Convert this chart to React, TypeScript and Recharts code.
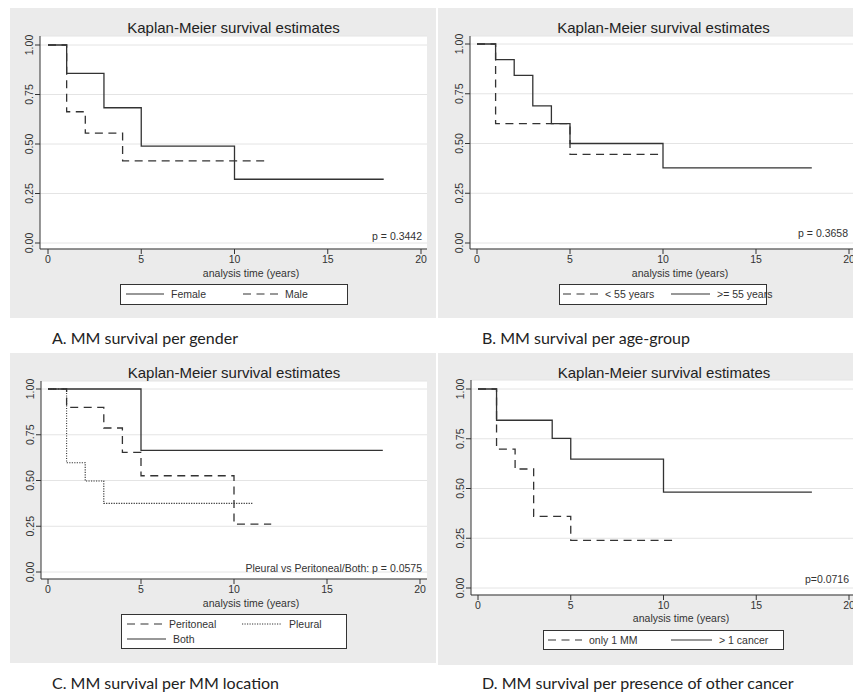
import React from 'react'
import { LineChart, Line, XAxis, YAxis, CartesianGrid } from 'recharts'

// Kaplan-Meier step data: event times (years) and survival estimates
const FEMALE_T = [0, 1, 3, 5, 10, 18]
const FEMALE_S = [1, 0.857, 0.683, 0.489, 0.322, 0.322]
const MALE_T = [0, 1, 2, 4, 11.8]
const MALE_S = [1, 0.663, 0.555, 0.415, 0.415]

const YOUNG_T = [0, 1, 5, 10]
const YOUNG_S = [1, 0.6, 0.445, 0.445]
const OLD_T = [0, 1, 2, 3, 4, 5, 10, 18]
const OLD_S = [1, 0.921, 0.842, 0.689, 0.6, 0.5, 0.378, 0.378]

const PERI_T = [0, 1, 3, 4, 5, 10, 12]
const PERI_S = [1, 0.9, 0.787, 0.654, 0.526, 0.262, 0.262]
const PLEU_T = [0, 1, 2, 3, 11]
const PLEU_S = [1, 0.597, 0.497, 0.375, 0.375]
const BOTH_T = [0, 5, 18]
const BOTH_S = [1, 0.665, 0.665]

const ONLY_T = [0, 1, 2, 3, 5, 10.7]
const ONLY_S = [1, 0.698, 0.598, 0.36, 0.239, 0.239]
const MULTI_T = [0, 1, 4, 5, 10, 18]
const MULTI_S = [1, 0.843, 0.752, 0.648, 0.482, 0.482]

const X_TICKS = [0, 5, 10, 15, 20]
const Y_TICKS = [0, 0.25, 0.5, 0.75, 1]

const TITLE = 'Kaplan-Meier survival estimates'
const X_LABEL = 'analysis time (years)'

const FONT = '"Liberation Sans", Arial, sans-serif'
const INK = '#333'
const DASH = '8 5.5'
const DOT = '1.2 1.3'

type Style = 'solid' | 'dash' | 'dot'

interface Series {
    name: string
    t: number[]
    s: number[]
    style: Style
}

const toRows = (t: number[], s: number[]) => t.map((v, i) => ({ t: v, s: s[i] }))

function dashOf(style: Style) {
    if (style === 'dash') return DASH
    if (style === 'dot') return DOT
    return undefined
}

function YTick(props: any) {
    const { x, y, payload } = props
    return (
        <text
            x={x}
            y={y}
            transform={`rotate(-90, ${x}, ${y})`}
            textAnchor="middle"
            fill={INK}
            fontSize={10.5}
            fontFamily={FONT}
        >
            {Number(payload.value).toFixed(2)}
        </text>
    )
}

function Sample({ style, width }: { style: Style; width: number }) {
    return (
        <svg width={width} height={6} style={{ display: 'block' }}>
            <line
                x1={0}
                x2={width}
                y1={3}
                y2={3}
                stroke={INK}
                strokeWidth={style === 'dot' ? 1 : 1.2}
                strokeDasharray={dashOf(style)}
            />
        </svg>
    )
}

interface LegendItem {
    name: string
    style: Style
    x: number
    y: number
    w: number
}

interface PanelProps {
    box: { x: number; y: number; w: number; h: number }
    plot: { l: number; t: number; r: number; b: number }
    x0px: number
    x20px: number
    y1px: number
    y0px: number
    series: Series[]
    pText: string
    pRight: number
    pY: number
    xLabelX: number
    xLabelY: number
    legendBox: { x: number; y: number; w: number; h: number }
    legend: LegendItem[]
    caption: string
    captionX: number
    captionY: number
}

function KMPanel(p: PanelProps) {
    const { box, plot } = p
    const upx = 20 / (p.x20px - p.x0px)
    const xDomain = [(plot.l - p.x0px) * upx, (plot.r - p.x0px) * upx]
    const upy = 1 / (p.y0px - p.y1px)
    const yDomain = [(p.y0px - plot.b) * upy, (p.y0px - plot.t) * upy]
    const chartW = plot.r - box.x + 5
    const chartH = plot.b - box.y + 30
    const centerX = (plot.l + plot.r) / 2

    return (
        <>
            <div
                style={{
                    position: 'absolute',
                    left: box.x,
                    top: box.y,
                    width: box.w,
                    height: box.h,
                    background: '#ebebeb',
                }}
            />
            <div style={{ position: 'absolute', left: box.x, top: box.y }}>
                <LineChart
                    width={chartW}
                    height={chartH}
                    margin={{ top: plot.t - box.y, right: 5, left: 0, bottom: 10 }}
                >
                    <CartesianGrid vertical={false} stroke="#e4e4e4" fill="#fff" />
                    <XAxis
                        type="number"
                        dataKey="t"
                        domain={xDomain}
                        ticks={X_TICKS}
                        allowDataOverflow
                        height={20}
                        tickSize={5}
                        stroke={INK}
                        tick={{ fill: INK, fontSize: 10.5, fontFamily: FONT }}
                    />
                    <YAxis
                        type="number"
                        dataKey="s"
                        domain={yDomain}
                        ticks={Y_TICKS}
                        allowDataOverflow
                        width={plot.l - box.x}
                        tickSize={5}
                        stroke={INK}
                        tick={<YTick />}
                    />
                    {p.series.map((s) => (
                        <Line
                            key={s.name}
                            data={toRows(s.t, s.s)}
                            dataKey="s"
                            type="stepAfter"
                            stroke={INK}
                            strokeWidth={s.style === 'dot' ? 1.1 : 1.3}
                            strokeDasharray={dashOf(s.style)}
                            dot={false}
                            isAnimationActive={false}
                        />
                    ))}
                </LineChart>
            </div>
            <div
                style={{
                    position: 'absolute',
                    left: centerX - 150,
                    top: box.y + 11,
                    width: 300,
                    textAlign: 'center',
                    fontFamily: FONT,
                    fontSize: 15,
                    color: '#222',
                }}
            >
                {TITLE}
            </div>
            <div
                style={{
                    position: 'absolute',
                    left: p.pRight - 300,
                    top: p.pY - 7,
                    width: 300,
                    textAlign: 'right',
                    fontFamily: FONT,
                    fontSize: 10.5,
                    color: INK,
                    lineHeight: '14px',
                }}
            >
                {p.pText}
            </div>
            <div
                style={{
                    position: 'absolute',
                    left: p.xLabelX - 100,
                    top: p.xLabelY - 7,
                    width: 200,
                    textAlign: 'center',
                    fontFamily: FONT,
                    fontSize: 10.5,
                    color: INK,
                    lineHeight: '14px',
                }}
            >
                {X_LABEL}
            </div>
            <div
                style={{
                    position: 'absolute',
                    left: p.legendBox.x,
                    top: p.legendBox.y,
                    width: p.legendBox.w,
                    height: p.legendBox.h,
                    border: '1px solid #333',
                    background: '#fff',
                    boxSizing: 'border-box',
                }}
            />
            {p.legend.map((it) => (
                <div
                    key={it.name}
                    style={{
                        position: 'absolute',
                        left: it.x,
                        top: it.y - 7,
                        height: 14,
                        display: 'flex',
                        alignItems: 'center',
                        fontFamily: FONT,
                        fontSize: 10.5,
                        color: INK,
                        whiteSpace: 'nowrap',
                    }}
                >
                    <Sample style={it.style} width={it.w} />
                    <span style={{ marginLeft: 7 }}>{it.name}</span>
                </div>
            ))}
            <div
                style={{
                    position: 'absolute',
                    left: p.captionX,
                    top: p.captionY - 11,
                    fontFamily: 'Lato, "Open Sans", sans-serif',
                    fontSize: 16,
                    color: '#222',
                    lineHeight: '22px',
                    whiteSpace: 'nowrap',
                }}
            >
                {p.caption}
            </div>
        </>
    )
}

export default function App() {
    return (
        <div
            style={{
                position: 'absolute',
                left: 0,
                top: 0,
                width: 853,
                height: 695,
                overflow: 'hidden',
                background: '#fff',
            }}
        >
            <KMPanel
                box={{ x: 10, y: 8, w: 426, h: 310 }}
                plot={{ l: 40, t: 36, r: 427, b: 249 }}
                x0px={48}
                x20px={421}
                y1px={45}
                y0px={243}
                series={[
                    { name: 'Female', t: FEMALE_T, s: FEMALE_S, style: 'solid' },
                    { name: 'Male', t: MALE_T, s: MALE_S, style: 'dash' },
                ]}
                pText="p = 0.3442"
                pRight={422}
                pY={236}
                xLabelX={251}
                xLabelY={273}
                legendBox={{ x: 120, y: 284, w: 228, h: 21 }}
                legend={[
                    { name: 'Female', style: 'solid', x: 126, y: 294, w: 38 },
                    { name: 'Male', style: 'dash', x: 243, y: 294, w: 35 },
                ]}
                caption="A. MM survival per gender"
                captionX={52}
                captionY={338}
            />
            <KMPanel
                box={{ x: 438, y: 8, w: 415, h: 310 }}
                plot={{ l: 470, t: 36, r: 857, b: 249 }}
                x0px={477}
                x20px={849}
                y1px={44}
                y0px={243}
                series={[
                    { name: '< 55 years', t: YOUNG_T, s: YOUNG_S, style: 'dash' },
                    { name: '>= 55 years', t: OLD_T, s: OLD_S, style: 'solid' },
                ]}
                pText="p = 0.3658"
                pRight={848}
                pY={233}
                xLabelX={680}
                xLabelY={273}
                legendBox={{ x: 559, y: 284, w: 208, h: 21 }}
                legend={[
                    { name: '< 55 years', style: 'dash', x: 563, y: 294, w: 35 },
                    { name: '>= 55 years', style: 'solid', x: 671, y: 294, w: 39 },
                ]}
                caption="B. MM survival per age-group"
                captionX={482}
                captionY={338}
            />
            <KMPanel
                box={{ x: 10, y: 353, w: 426, h: 310 }}
                plot={{ l: 41, t: 381, r: 427, b: 579 }}
                x0px={48}
                x20px={420}
                y1px={389}
                y0px={572}
                series={[
                    { name: 'Peritoneal', t: PERI_T, s: PERI_S, style: 'dash' },
                    { name: 'Pleural', t: PLEU_T, s: PLEU_S, style: 'dot' },
                    { name: 'Both', t: BOTH_T, s: BOTH_S, style: 'solid' },
                ]}
                pText="Pleural vs Peritoneal/Both: p = 0.0575"
                pRight={422}
                pY={568}
                xLabelX={251}
                xLabelY={603}
                legendBox={{ x: 121, y: 614, w: 226, h: 35 }}
                legend={[
                    { name: 'Peritoneal', style: 'dash', x: 127, y: 624, w: 35 },
                    { name: 'Pleural', style: 'dot', x: 242, y: 624, w: 40 },
                    { name: 'Both', style: 'solid', x: 127, y: 639, w: 39 },
                ]}
                caption="C. MM survival per MM location"
                captionX={52}
                captionY={683}
            />
            <KMPanel
                box={{ x: 438, y: 353, w: 415, h: 312 }}
                plot={{ l: 471, t: 380, r: 857, b: 595 }}
                x0px={478}
                x20px={849}
                y1px={389}
                y0px={588}
                series={[
                    { name: 'only 1 MM', t: ONLY_T, s: ONLY_S, style: 'dash' },
                    { name: '> 1 cancer', t: MULTI_T, s: MULTI_S, style: 'solid' },
                ]}
                pText="p=0.0716"
                pRight={849}
                pY={579}
                xLabelX={681}
                xLabelY={618}
                legendBox={{ x: 543, y: 630, w: 241, h: 20 }}
                legend={[
                    { name: 'only 1 MM', style: 'dash', x: 548, y: 640, w: 34 },
                    { name: '> 1 cancer', style: 'solid', x: 671, y: 640, w: 41 },
                ]}
                caption="D. MM survival per presence of other cancer"
                captionX={482}
                captionY={683}
            />
        </div>
    )
}
